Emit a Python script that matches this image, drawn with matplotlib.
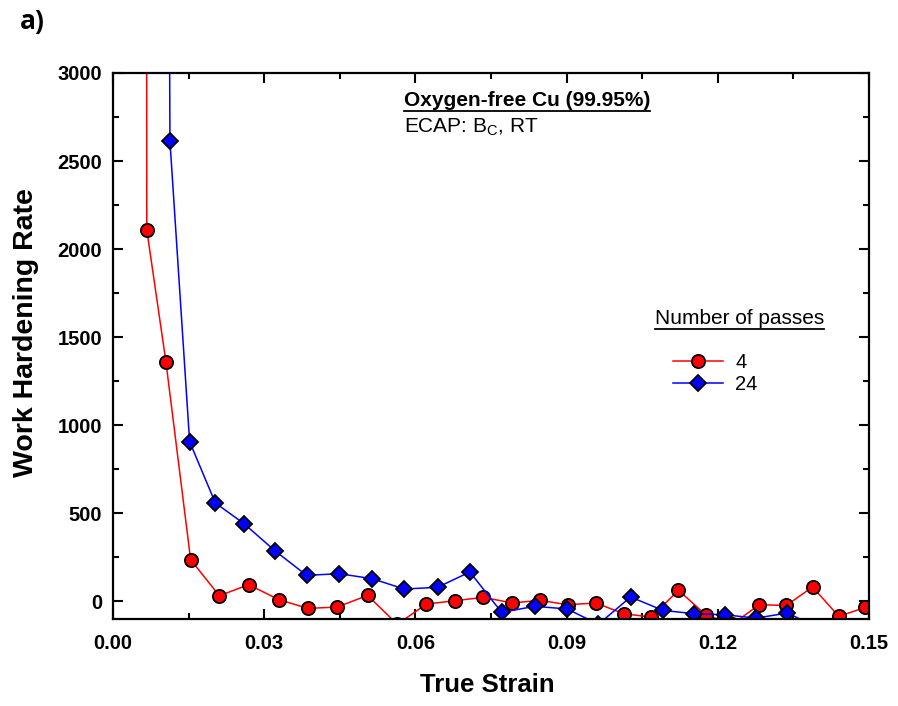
import matplotlib
matplotlib.use("Agg")
import matplotlib.pyplot as plt
from matplotlib.lines import Line2D
from matplotlib.ticker import MultipleLocator, FormatStrFormatter

plt.rcParams['font.family'] = ['Liberation Sans', 'DejaVu Sans']
plt.rcParams['mathtext.default'] = 'regular'

# 4 passes (red circles)
strain_4 = [0.0066, 0.0067, 0.0105, 0.0154, 0.0211, 0.0269, 0.0329, 0.0387, 0.0445, 0.0505,
            0.0564, 0.0622, 0.0679, 0.0735, 0.0792, 0.0847, 0.0902, 0.0958, 0.1013, 0.1068,
            0.1122, 0.1176, 0.1229, 0.1282, 0.1336, 0.1388, 0.1440, 0.1493]
rate_4 = [9000, 2110, 1360, 237, 32, 95, 10, -40, -32, 34,
          -130, -15, 4, 23, -9, 6, -19, -9, -70, -89,
          63, -76, -130, -19, -23, 82, -85, -34]

# 24 passes (blue diamonds)
strain_24 = [0.0105, 0.0113, 0.0152, 0.0203, 0.0260, 0.0321, 0.0384, 0.0449, 0.0514, 0.0578,
             0.0644, 0.0708, 0.0771, 0.0837, 0.0901, 0.0963, 0.1027, 0.1091, 0.1153, 0.1214,
             0.1276, 0.1338, 0.1400]
rate_24 = [8000, 2613, 907, 559, 441, 288, 148, 157, 129, 70,
           80, 167, -62, -28, -43, -130, 25, -51, -70, -76,
           -95, -66, -150]

fig = plt.figure(figsize=(8.98, 7.06), dpi=100)
ax = fig.add_axes([113/898, 1-619/706, (869-113)/898, (619-73)/706])

ax.plot(strain_4, rate_4, color='#ff0000', lw=1.1, marker='o', ms=9.5,
        mfc='#ff0000', mec='black', mew=1.3, label='4')
ax.plot(strain_24, rate_24, color='#0000ff', lw=1.1, marker='D', ms=8.5,
        mfc='#0000ff', mec='black', mew=1.3, label='24')

ax.set_xlim(0, 0.15)
ax.set_ylim(-100, 3000)
ax.xaxis.set_major_locator(MultipleLocator(0.03))
ax.xaxis.set_minor_locator(MultipleLocator(0.015))
ax.xaxis.set_major_formatter(FormatStrFormatter('%.2f'))
ax.yaxis.set_minor_locator(MultipleLocator(250))
ax.set_yticks([0, 500, 1000, 1500, 2000, 2500, 3000])
ax.tick_params(which='both', direction='in', top=True, right=True, width=1.5)
ax.tick_params(which='major', length=7, labelsize=14.5)
ax.tick_params(axis='x', which='major', pad=11)
ax.tick_params(axis='y', which='major', pad=8)
ax.tick_params(which='minor', length=4.5)
for lbl in ax.get_xticklabels() + ax.get_yticklabels():
    lbl.set_fontweight('bold')
for sp in ax.spines.values():
    sp.set_linewidth(1.6)

ax.set_xlabel('True Strain', fontsize=18.5, fontweight='bold')
ax.set_ylabel('Work Hardening Rate', fontsize=20.5, fontweight='bold')
ax.xaxis.set_label_coords(0.495, -0.099)
ax.yaxis.set_label_coords(-0.098, 0.525)

t1 = fig.text(404/898, 1-101/706, 'Oxygen-free Cu (99.95%)', fontsize=15,
              fontweight='bold', va='center', ha='left')
fig.text(404/898, 1-127/706, r'ECAP: B$_C$, RT', fontsize=15, va='center', ha='left')
t2 = fig.text(655/898, 1-319/706, 'Number of passes', fontsize=15, va='center', ha='left')

leg = ax.legend(loc='center left', bbox_to_anchor=(673/898, 1-373.5/706),
                bbox_transform=fig.transFigure, frameon=False, fontsize=14.5,
                borderpad=0, borderaxespad=0,
                handlelength=2.5, handletextpad=0.6, labelspacing=0.17)

fig.text(20/898, 1-22/706, 'a)', fontsize=19, fontweight='bold', family='Open Sans',
         va='center', ha='left')

# underline the two headings
fig.canvas.draw()
r = fig.canvas.get_renderer()
for t in (t1, t2):
    bb = t.get_window_extent(r)
    y = bb.y0 - 0.5
    fig.add_artist(Line2D([bb.x0 / fig.bbox.width, bb.x1 / fig.bbox.width],
                          [y / fig.bbox.height, y / fig.bbox.height],
                          transform=fig.transFigure, color='black', lw=1.3))

fig.savefig('out.png', dpi=100)
